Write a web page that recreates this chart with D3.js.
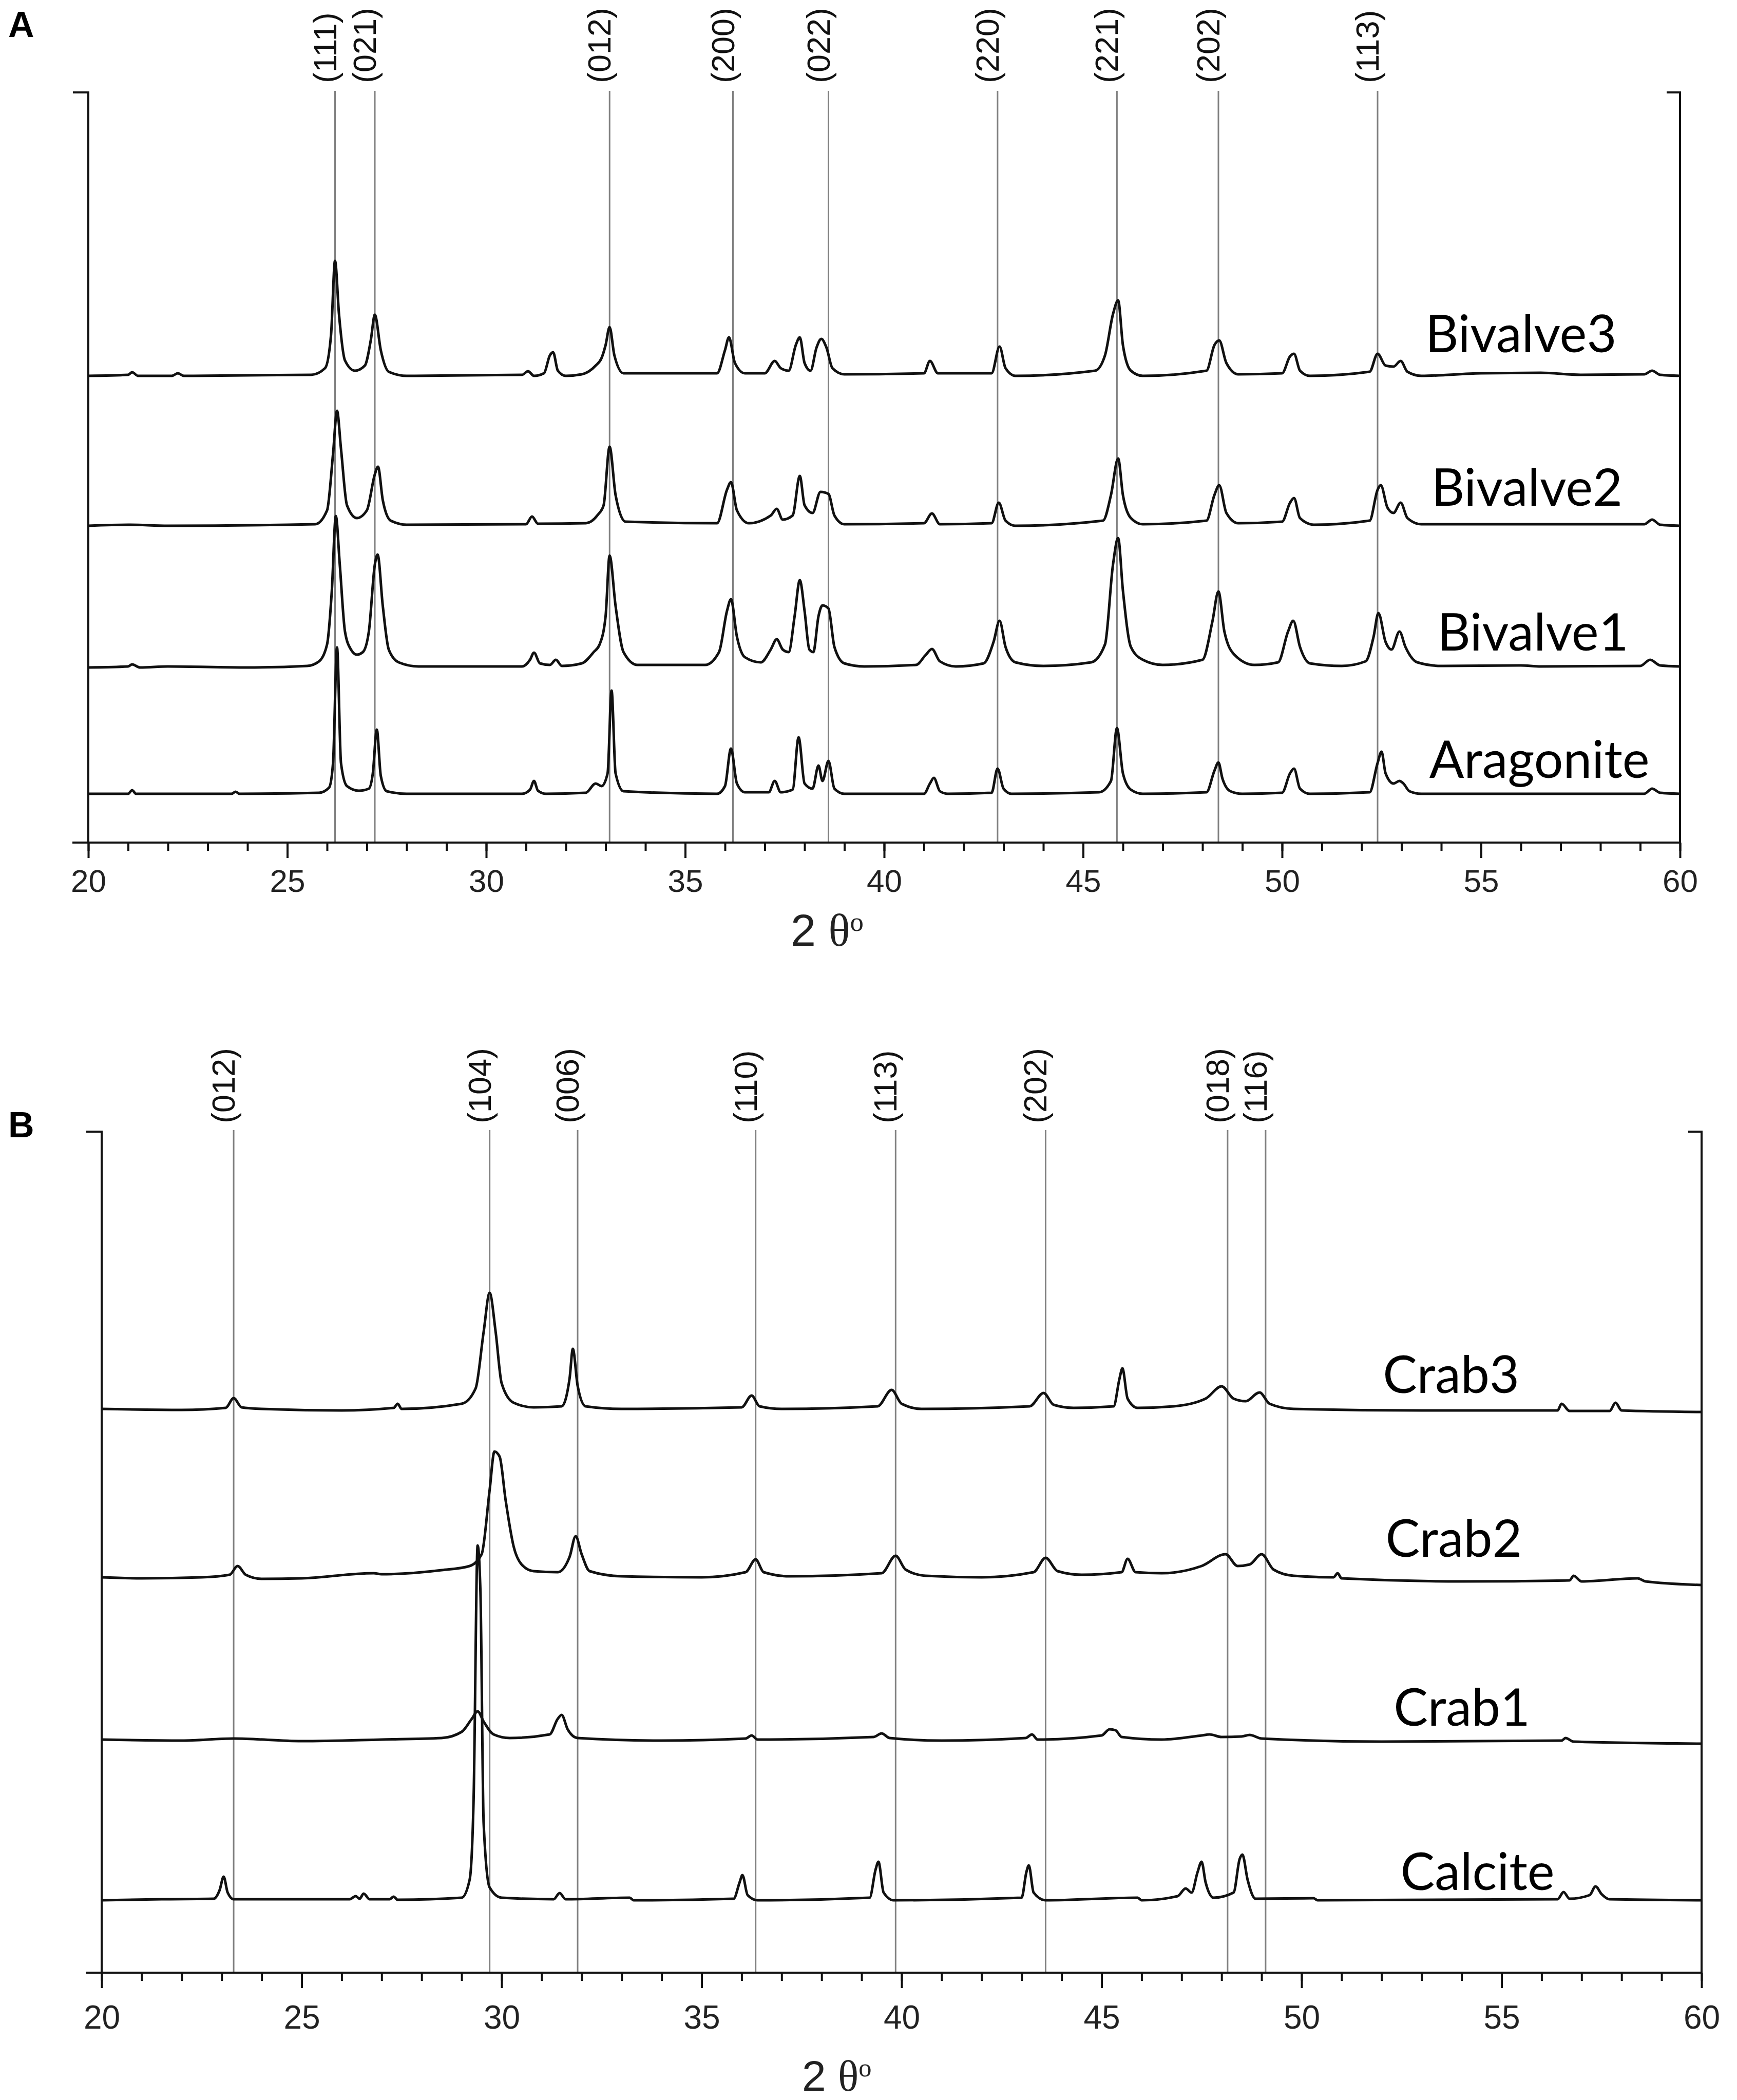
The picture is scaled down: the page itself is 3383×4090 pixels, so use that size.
<!DOCTYPE html>
<html>
<head>
<meta charset="utf-8">
<script src="https://cdn.jsdelivr.net/npm/d3@7"></script>
<style>
  body { margin: 0; background: #fff; }
  svg { display: block; }
</style>
</head>
<body>
<div id="chart"></div>
<script>
// 2-theta range and axis ticks shared by both panels
const thetaDomain = [20, 60];
const majorTicks = [20, 25, 30, 35, 40, 45, 50, 55, 60];
const minorTicks = d3.range(20, 61, 1);

// Panel A: aragonite reflections
const planesA = ["(111)", "(021)", "(012)", "(200)", "(022)", "(220)", "(221)", "(202)", "(113)"];
const planePosA = [26.2, 27.2, 33.1, 36.2, 38.6, 42.85, 45.85, 48.4, 52.4];

// Panel B: calcite reflections
const planesB = ["(012)", "(104)", "(006)", "(110)", "(113)", "(202)", "(018)", "(116)"];
const planePosB = [23.3, 29.7, 31.9, 36.35, 39.85, 43.6, 48.15, 49.1];

// intensity (a.u.), [2theta, counts above baseline]
const aragonite = [[20,0],[21.0,0],[21.1,7],[21.2,0],[23.6,0],[23.7,4],[23.8,0],[25.8,2],[26.05,12],[26.15,60],[26.25,285],[26.35,60],[26.5,15],[26.8,6],[27.05,10],[27.15,40],[27.25,125],[27.35,35],[27.5,5],[28,0],[30.9,0],[31.1,8],[31.2,25],[31.3,6],[31.5,0],[32.5,2],[32.75,20],[32.9,15],[33.05,40],[33.15,201],[33.25,40],[33.45,5],[35.8,0],[36.0,15],[36.15,88],[36.3,20],[36.5,3],[37.1,3],[37.25,25],[37.4,3],[37.7,8],[37.85,110],[38.0,20],[38.2,10],[38.35,55],[38.45,25],[38.6,64],[38.75,10],[39,0],[41.0,0],[41.15,20],[41.25,31],[41.4,5],[41.6,0],[42.7,2],[42.85,49],[43.0,10],[43.2,0],[45.4,3],[45.7,25],[45.85,128],[46.0,40],[46.2,8],[46.5,0],[48.1,3],[48.3,45],[48.4,61],[48.5,30],[48.7,5],[49,0],[50.0,2],[50.2,40],[50.3,49],[50.45,10],[50.7,0],[52.2,3],[52.4,60],[52.5,82],[52.6,40],[52.8,20],[52.95,25],[53.05,20],[53.2,5],[53.5,0],[59.1,0],[59.3,10],[59.5,2],[60,0]];
const bivalve1 = [[20,0],[21.0,2],[21.1,6],[21.3,0],[22,2],[24,0],[25.5,3],[25.8,12],[26.0,45],[26.12,150],[26.22,295],[26.32,200],[26.45,70],[26.6,35],[26.75,25],[26.9,30],[27.05,70],[27.2,200],[27.27,220],[27.4,120],[27.55,35],[27.8,10],[28.3,2],[30.9,2],[31.1,15],[31.2,29],[31.35,8],[31.6,5],[31.75,15],[31.9,3],[32.4,8],[32.7,30],[32.85,45],[33.0,100],[33.1,218],[33.25,120],[33.45,30],[33.8,5],[35.5,5],[35.85,30],[36.05,110],[36.15,133],[36.3,60],[36.5,20],[36.9,10],[37.15,35],[37.3,55],[37.45,35],[37.6,30],[37.75,100],[37.88,170],[38.0,110],[38.12,35],[38.22,30],[38.35,100],[38.45,121],[38.6,115],[38.75,40],[39.0,8],[39.5,2],[40.8,5],[41.05,25],[41.2,36],[41.4,12],[41.8,2],[42.5,8],[42.75,50],[42.9,91],[43.05,40],[43.3,10],[44,3],[45.2,10],[45.55,45],[45.75,200],[45.88,252],[46.0,150],[46.2,40],[46.5,15],[47,5],[48.0,15],[48.25,90],[48.4,148],[48.55,70],[48.8,25],[49.3,5],[49.9,10],[50.15,70],[50.28,91],[50.45,40],[50.7,8],[51.5,3],[52.1,12],[52.3,60],[52.42,106],[52.6,50],[52.75,35],[52.95,70],[53.1,40],[53.4,10],[54,3],[56,4],[56.5,2],[59.0,3],[59.25,15],[59.5,4],[60,2]];
const bivalve2 = [[20,0],[21,2],[22,0],[25.7,3],[26.0,30],[26.15,140],[26.25,224],[26.35,150],[26.5,40],[26.75,15],[27.0,30],[27.2,100],[27.28,115],[27.4,50],[27.6,10],[28,2],[31.0,3],[31.15,18],[31.3,4],[32.5,5],[32.8,21],[32.95,40],[33.1,154],[33.25,60],[33.5,8],[35.8,5],[36.05,70],[36.15,85],[36.3,30],[36.6,5],[37.15,20],[37.3,33],[37.45,12],[37.7,20],[37.88,97],[38.0,40],[38.2,25],[38.4,66],[38.6,62],[38.75,20],[39.0,3],[41.0,5],[41.2,24],[41.4,3],[42.7,5],[42.88,45],[43.05,10],[43.3,0],[45.5,10],[45.7,60],[45.88,131],[46.0,60],[46.2,15],[46.5,3],[48.1,10],[48.3,60],[48.42,79],[48.6,25],[48.9,5],[50.0,8],[50.2,45],[50.3,54],[50.45,15],[50.8,2],[52.2,10],[52.4,70],[52.48,79],[52.65,35],[52.8,25],[52.98,45],[53.15,15],[53.5,3],[59.1,3],[59.3,12],[59.5,2],[60,0]];
const bivalve3 = [[20,0],[21.0,2],[21.1,7],[21.25,0],[22.1,0],[22.25,5],[22.4,0],[25.6,2],[25.95,15],[26.1,80],[26.2,224],[26.3,120],[26.45,30],[26.7,10],[26.95,20],[27.1,70],[27.2,119],[27.35,50],[27.55,8],[28,0],[30.9,2],[31.05,9],[31.2,0],[31.45,5],[31.6,40],[31.68,46],[31.8,10],[32.0,0],[32.4,3],[32.75,20],[32.9,35],[33.0,60],[33.1,95],[33.22,40],[33.45,5],[35.8,5],[36.0,50],[36.1,75],[36.25,25],[36.5,5],[37.0,5],[37.25,29],[37.4,15],[37.6,10],[37.78,60],[37.88,75],[38.0,25],[38.15,10],[38.3,55],[38.42,72],[38.55,55],[38.7,15],[39.0,3],[41.0,5],[41.15,29],[41.35,5],[42.7,5],[42.9,57],[43.05,15],[43.3,0],[45.3,10],[45.55,40],[45.75,120],[45.88,147],[46.0,60],[46.2,10],[46.5,0],[48.1,10],[48.3,60],[48.42,69],[48.6,25],[48.9,3],[50.0,5],[50.2,38],[50.3,43],[50.45,10],[50.7,0],[52.2,8],[52.4,43],[52.6,20],[52.8,18],[52.98,29],[53.15,8],[53.5,0],[55.0,5],[56.5,6],[57.5,2],[59.1,3],[59.3,10],[59.5,2],[60,0]];

const calcite = [[20,0],[21.5,2],[22.8,3],[22.95,20],[23.05,46],[23.15,15],[23.3,2],[26.2,2],[26.35,8],[26.45,3],[26.55,13],[26.7,2],[27.2,2],[27.3,7],[27.4,1],[29.0,5],[29.2,40],[29.3,200],[29.4,691],[29.47,600],[29.55,150],[29.7,25],[30,5],[31.3,2],[31.45,14],[31.6,2],[33.2,5],[33.3,0],[35.8,3],[35.95,35],[36.02,49],[36.15,10],[36.4,0],[39.2,5],[39.35,60],[39.42,75],[39.55,15],[39.8,0],[43.0,5],[43.12,55],[43.18,68],[43.3,15],[43.6,0],[45.9,5],[46,0],[46.9,8],[47.1,23],[47.25,15],[47.4,55],[47.5,75],[47.6,35],[47.8,5],[48.3,15],[48.45,80],[48.52,89],[48.65,40],[48.85,3],[50.3,4],[50.4,0],[56.4,2],[56.55,16],[56.7,3],[57.2,10],[57.35,27],[57.5,12],[57.7,2],[60,0]];
const crab1 = [[20,0],[22,-2],[23.3,2],[25,-3],[27,0],[28.5,3],[29.0,15],[29.25,40],[29.4,55],[29.55,35],[29.8,10],[30.2,3],[31.2,10],[31.4,40],[31.5,48],[31.65,20],[31.9,3],[34,-2],[36.1,2],[36.25,8],[36.4,0],[39.3,5],[39.5,12],[39.7,3],[41,-2],[43.1,3],[43.26,10],[43.4,0],[45.0,8],[45.2,20],[45.35,18],[45.5,5],[46.5,0],[47.5,8],[47.7,10],[48.0,5],[48.5,6],[48.7,9],[49.0,2],[52,-4],[56.5,-2],[56.6,3],[56.8,-4],[60,-8]];
const crab2 = [[20,0],[21,-2],[22.5,0],[23.2,5],[23.4,22],[23.6,5],[24.0,-3],[25,-2],[26.8,8],[27,6],[28.5,14],[29.2,22],[29.5,45],[29.7,170],[29.82,245],[29.95,235],[30.1,150],[30.3,60],[30.5,25],[30.8,12],[31.4,10],[31.7,40],[31.85,80],[32.0,45],[32.2,12],[33,2],[35,0],[36.1,10],[36.35,35],[36.55,10],[37.2,2],[39.5,8],[39.85,42],[40.1,15],[40.6,3],[42,0],[43.3,10],[43.6,38],[43.9,12],[44.5,5],[45.5,10],[45.65,36],[45.85,10],[46.5,8],[47.5,22],[48.1,45],[48.4,22],[48.7,25],[49.0,45],[49.3,15],[49.8,3],[50.8,0],[50.9,8],[51.0,-2],[54,-8],[56.7,-6],[56.8,3],[57,-8],[58.4,-2],[58.6,-8],[60,-15]];
const crab3 = [[20,0],[22,-2],[23.1,2],[23.3,21],[23.5,3],[24,0],[26,-3],[27.3,2],[27.4,10],[27.5,0],[29.0,10],[29.35,40],[29.55,150],[29.7,226],[29.85,150],[30.0,50],[30.3,12],[30.8,3],[31.5,5],[31.7,60],[31.78,117],[31.9,45],[32.1,5],[33,0],[36.0,3],[36.25,26],[36.45,5],[37,0],[39.4,5],[39.75,37],[40.0,10],[40.5,0],[43.2,5],[43.55,31],[43.8,8],[44.3,2],[45.3,5],[45.45,60],[45.52,79],[45.65,20],[45.9,2],[46.8,5],[47.6,20],[48.0,44],[48.3,20],[48.6,15],[48.95,32],[49.2,10],[49.8,0],[53,-3],[56.4,-3],[56.5,10],[56.7,-4],[57.7,-4],[57.85,12],[58.0,-3],[60,-6]];

// sample names, stacking offsets (a.u.)
const samplesA = ["Aragonite", "Bivalve1", "Bivalve2", "Bivalve3"];
const tracesA = [aragonite, bivalve1, bivalve2, bivalve3];
const offsetsA = [95, 341, 617, 909];

const samplesB = ["Calcite", "Crab1", "Crab2", "Crab3"];
const tracesB = [calcite, crab1, crab2, crab3];
const offsetsB = [141, 454, 770, 1098];

(() => {
    const width = 3383, height = 4090;

    const panels = [
        {
            letter: "A", letterY: 72,
            x0: 172, x1: 3272, top: 180, bottom: 1641, yMax: 1461,
            planes: planesA, planePos: planePosA, planeLabelY: 162,
            samples: samplesA, traces: tracesA, offsets: offsetsA,
            labelX: [53.7, 53.9, 53.75, 53.6], labelLift: [31, 33, 39, 46],
            tickFont: 62, tickDy: 96, titleX: 1540, titleY: 1842, titleFont: 88
        },
        {
            letter: "B", letterY: 2215,
            x0: 198, x1: 3314, top: 2204, bottom: 3842, yMax: 1638,
            planes: planesB, planePos: planePosB, planeLabelY: 2188,
            samples: samplesB, traces: tracesB, offsets: offsetsB,
            labelX: [52.47, 52.3, 52.1, 52.03], labelLift: [20, 27, 40, 31],
            tickFont: 64, tickDy: 109, titleX: 1562, titleY: 4072, titleFont: 84
        }
    ];

    const svg = d3.select("#chart")
        .append("svg")
        .attr("width", width)
        .attr("height", height)
        .style("background", "#fff");

    panels.forEach(p => {
        const x = d3.scaleLinear().domain(thetaDomain).range([p.x0, p.x1]);
        const y = d3.scaleLinear().domain([0, p.yMax]).range([p.bottom, p.top]);
        const g = svg.append("g");

        // panel letter
        g.append("text")
            .attr("x", 16)
            .attr("y", p.letterY)
            .text(p.letter)
            .style("font-family", "'Liberation Sans', Arial, sans-serif")
            .style("font-weight", "bold")
            .style("font-size", "70px");

        // reference lines for crystal planes
        g.selectAll(".ref")
            .data(p.planePos)
            .enter()
            .append("line")
            .attr("x1", d => x(d))
            .attr("x2", d => x(d))
            .attr("y1", p.top - 3)
            .attr("y2", p.bottom)
            .attr("stroke", "#808080")
            .attr("stroke-width", 3);

        // rotated labels, glyph baseline sitting on the reference line
        g.selectAll(".plane")
            .data(p.planes)
            .enter()
            .append("text")
            .attr("transform", (d, i) => `translate(${x(p.planePos[i]) + 2},${p.planeLabelY}) rotate(-90)`)
            .text(d => d)
            .style("font-family", "'Liberation Sans', Arial, sans-serif")
            .style("font-size", "63px")
            .style("fill", "#111");

        // traces
        const line = d3.line()
            .x(d => x(d[0]))
            .curve(d3.curveMonotoneX);

        p.traces.forEach((trace, i) => {
            g.append("path")
                .datum(trace)
                .attr("fill", "none")
                .attr("stroke", "#111")
                .attr("stroke-width", 5)
                .attr("stroke-linejoin", "round")
                .attr("d", line.y(d => y(p.offsets[i] + d[1])));

            g.append("text")
                .attr("x", x(p.labelX[i]))
                .attr("y", y(p.offsets[i] + p.labelLift[i]))
                .text(p.samples[i])
                .style("font-family", "Lato, 'Open Sans', sans-serif")
                .style("font-size", "100px")
                .style("fill", "#000");
        });

        // frame: left and right verticals with a small tick at the top
        const frame = g.append("g")
            .attr("stroke", "#111")
            .attr("stroke-width", 4)
            .attr("fill", "none");
        frame.append("path").attr("d", `M${p.x0 - 30},${p.top}H${p.x0}V${p.bottom}`);
        frame.append("path").attr("d", `M${p.x1 - 26},${p.top}H${p.x1}V${p.bottom}`);
        frame.append("path").attr("d", `M${p.x0 - 31},${p.bottom}H${p.x1}`);

        // x axis: minor ticks every degree, major every 5
        const minor = g.append("g")
            .attr("transform", `translate(0,${p.bottom})`)
            .call(d3.axisBottom(x).tickValues(minorTicks).tickSize(16).tickSizeOuter(0).tickFormat(""));
        const major = g.append("g")
            .attr("transform", `translate(0,${p.bottom})`)
            .call(d3.axisBottom(x).tickValues(majorTicks).tickSize(30).tickSizeOuter(0));

        [minor, major].forEach(a => {
            a.select(".domain").remove();
            a.selectAll(".tick line").attr("stroke", "#111").attr("stroke-width", 4);
        });
        major.selectAll(".tick text")
            .attr("y", p.tickDy)
            .attr("dy", 0)
            .style("font-family", "'Liberation Sans', Arial, sans-serif")
            .style("font-size", p.tickFont + "px")
            .style("fill", "#222");

        // axis title 2θ°
        const title = g.append("text")
            .attr("x", p.titleX)
            .attr("y", p.titleY)
            .style("font-size", p.titleFont + "px")
            .style("fill", "#222");
        title.append("tspan").text("2 ").style("font-family", "'Liberation Sans', Arial, sans-serif");
        title.append("tspan").text("θ").style("font-family", "'Liberation Serif', 'Times New Roman', serif");
        title.append("tspan").text("o")
            .attr("dy", "-0.55em")
            .style("font-size", (p.titleFont * 0.6) + "px")
            .style("font-family", "'Liberation Serif', 'Times New Roman', serif");
    });
})();
</script>
</body>
</html>
